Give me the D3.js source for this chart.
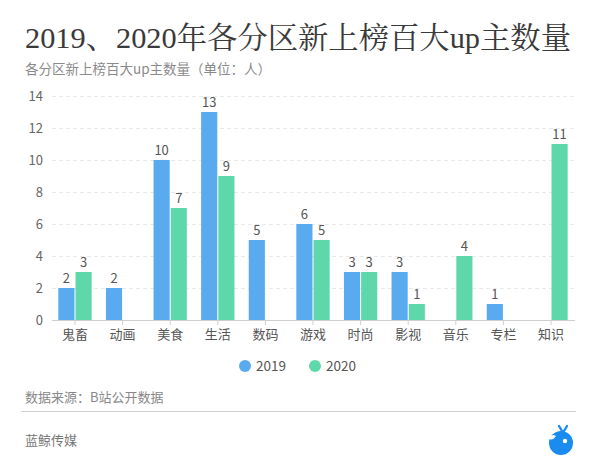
<!DOCTYPE html>
<html><head><meta charset="utf-8">
<script src="https://cdn.jsdelivr.net/npm/d3@7"></script>
<style>body{margin:0;background:#fff}svg{display:block}</style>
</head><body><svg id="c" width="600" height="470"></svg>
<script>
const categories = ["鬼畜","动画","美食","生活","数码","游戏","时尚","影视","音乐","专栏","知识"];
const seriesNames = ["2019","2020"];
const values2019 = [2,2,10,13,5,6,3,3,0,1,0];
const values2020 = [3,0,7,9,0,5,3,1,4,0,11];
const yTicks = [0,2,4,6,8,10,12,14];
const colors = ["#59aaee","#5ed7ab"];

const svg = d3.select("#c");
const sans = "'Noto Sans CJK SC','Noto Sans',sans-serif";

svg.append("rect").attr("width",600).attr("height",470).attr("fill","#fff");

svg.append("text").attr("x",25).attr("y",48)
  .attr("font-family","'Liberation Serif','Noto Serif CJK SC','Noto Sans CJK SC',serif")
  .attr("font-size",30).attr("fill","#3a3a3a").attr("font-weight",400)
  .attr("textLength",546).attr("lengthAdjust","spacingAndGlyphs")
  .text("2019、2020年各分区新上榜百大up主数量");
svg.append("text").attr("x",25).attr("y",74)
  .attr("font-family",sans).attr("font-size",13.5).attr("fill","#8a8a8a")
  .text("各分区新上榜百大up主数量（单位：人）");

const y = d3.scaleLinear().domain([0,14]).range([320,96]);
const x0 = d3.scaleBand().domain(categories).range([51.2,574.8]).paddingInner(0.3).paddingOuter(0.15);
const x1 = d3.scaleBand().domain(seriesNames).range([0,x0.bandwidth()]).paddingInner(0.06);

// grid
const grid = svg.append("g");
grid.selectAll("line").data(yTicks.filter(d=>d>0)).join("line")
  .attr("x1",52).attr("x2",575).attr("y1",d=>y(d)+0.5).attr("y2",d=>y(d)+0.5)
  .attr("stroke","#e9e9e9").attr("stroke-dasharray","4,3");

// y axis
const yAxis = d3.axisLeft(y).tickValues(yTicks).tickSize(0).tickPadding(0);
const yg = svg.append("g").attr("transform","translate(43,0)").call(yAxis);
yg.select(".domain").remove();
yg.selectAll("text").attr("font-family",sans).attr("font-size",13).attr("fill","#666").attr("dy","0.35em");

// bars
const data = categories.map((c,i)=>({cat:c, vals:[values2019[i],values2020[i]]}));
const groups = svg.append("g").selectAll("g").data(data).join("g")
  .attr("transform",d=>`translate(${x0(d.cat)},0)`);
groups.selectAll("rect").data(d=>d.vals.map((v,j)=>({v,s:seriesNames[j],j})).filter(e=>e.v>0)).join("rect")
  .attr("x",e=>x1(e.s)).attr("width",x1.bandwidth())
  .attr("y",e=>y(e.v)).attr("height",e=>y(0)-y(e.v))
  .attr("fill",e=>colors[e.j]);
groups.selectAll("text").data(d=>d.vals.map((v,j)=>({v,s:seriesNames[j],j})).filter(e=>e.v>0)).join("text")
  .attr("x",e=>x1(e.s)+x1.bandwidth()/2).attr("y",e=>y(e.v)-5)
  .attr("text-anchor","middle").attr("font-family",sans).attr("font-size",13).attr("fill","#555")
  .text(e=>e.v);

// x axis
const xAxis = d3.axisBottom(x0).tickSize(5).tickPadding(5);
const xg = svg.append("g").attr("transform","translate(0,320)").call(xAxis);
xg.select(".domain").attr("d","M52,0.5H575").attr("stroke","#cfcfcf");
xg.selectAll(".tick line").attr("stroke","#cfcfcf");
xg.selectAll("text").attr("font-family",sans).attr("font-size",13).attr("fill","#555");

// legend
const leg = svg.append("g").attr("transform","translate(0,366)");
const legX = [245,315];
seriesNames.forEach((s,i)=>{
  leg.append("circle").attr("cx",legX[i]).attr("cy",0).attr("r",6).attr("fill",colors[i]);
  leg.append("text").attr("x",legX[i]+11).attr("y",0).attr("dy","0.35em")
    .attr("font-family",sans).attr("font-size",13.5).attr("fill","#555").text(s);
});

// footer
svg.append("text").attr("x",25).attr("y",402).attr("font-family",sans).attr("font-size",13)
  .attr("fill","#888").text("数据来源：B站公开数据");
svg.append("line").attr("x1",21).attr("x2",576).attr("y1",411.5).attr("y2",411.5).attr("stroke","#d0d0d0");
svg.append("text").attr("x",25).attr("y",445).attr("font-family",sans).attr("font-size",13)
  .attr("fill","#777").text("蓝鲸传媒");

// logo
const lg = svg.append("g").attr("transform","translate(561,443)");
lg.append("circle").attr("r",12).attr("fill","#1a8cf0");
lg.append("path").attr("d","M-12.5,-5 Q-9,-1 -5,-7 Q-9,-10 -12.5,-5Z").attr("fill","#fff");
lg.append("circle").attr("cx",4).attr("cy",-2).attr("r",2.2).attr("fill","#fff");
lg.append("path").attr("d","M1,-12 L-2,-17 M3,-12 L6,-17").attr("stroke","#1a8cf0").attr("stroke-width",2.4).attr("stroke-linecap","round");
</script></body></html>
